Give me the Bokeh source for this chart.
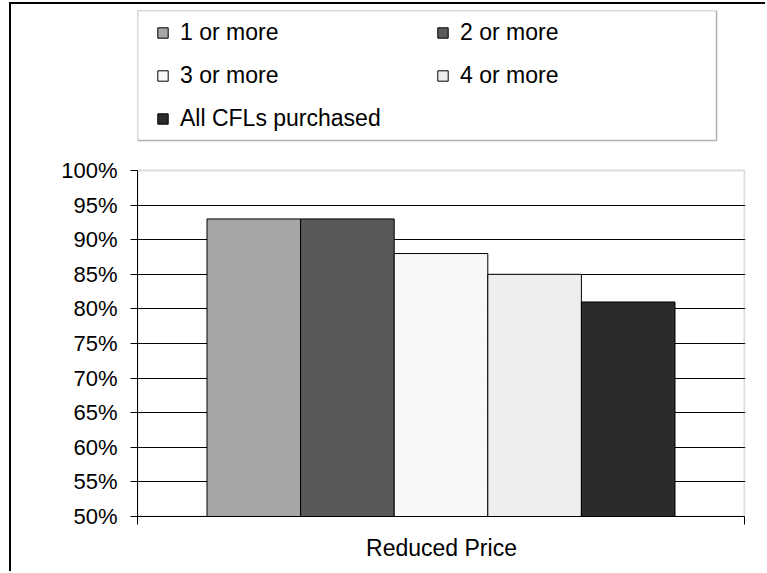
from bokeh.plotting import figure
from bokeh.models import (Range1d, LinearAxis, FixedTicker, NumeralTickFormatter,
                          Legend, LegendItem, BoxAnnotation)
from bokeh.embed import file_html
from bokeh.resources import INLINE

categories = ["Reduced Price"]
series = ["1 or more", "2 or more", "3 or more", "4 or more", "All CFLs purchased"]
values = [0.93, 0.93, 0.88, 0.85, 0.81]
colors = ["#A6A6A6", "#595959", "#F8F8F8", "#EEEEEE", "#2B2B2B"]
y_ticks = [0.50, 0.55, 0.60, 0.65, 0.70, 0.75, 0.80, 0.85, 0.90, 0.95, 1.00]

FONT = "Liberation Sans"
# page geometry (pixels)
OX, OY = 11, 4                       # canvas origin inside the outer border
W, H = 767 - OX, 573 - OY
PL, PR, PT, PB = 137, 744, 170, 516  # plot area (axis box)
FTOP = 10                            # frame extends up to include the legend
PX_PER_X = PR - PL
PX_PER_Y = (PB - PT) / (y_ticks[-1] - y_ticks[0])

def dx(px):
    return (px - PL) / PX_PER_X

def dy(py):
    return y_ticks[0] + (PB - py) / PX_PER_Y

p = figure(width=W, height=H,
           x_range=Range1d(0, dx(PR + 1)),
           y_range=Range1d(y_ticks[0], dy(FTOP)),
           x_axis_location=None,
           output_backend="svg", toolbar_location=None,
           min_border_left=PL - OX, min_border_right=W - (PR + 1 - OX),
           min_border_top=FTOP - OY, min_border_bottom=H - (PB - OY))
# outer chart border (left and top edges visible in the picture)
p.styles = {"margin-left": f"{OX}px", "margin-top": f"{OY}px",
            "box-shadow": "-2px -2px 0px 0px black"}
p.background_fill_color = "white"
p.border_fill_color = "white"
p.outline_line_color = None
p.xgrid.visible = False

# plot-area border (grey), drawn under grid/axes
area = BoxAnnotation(left=0, right=len(categories), bottom=y_ticks[0], top=y_ticks[-1],
                     fill_alpha=0, line_color="#8C8C8C", line_width=2, level="underlay")
p.add_layout(area)

bar_w = 0.1542
renderers = []
for i, (name, val, col) in enumerate(zip(series, values, colors)):
    xs = [c + 0.5 + (i - 2) * bar_w for c in range(len(categories))]
    r = p.vbar(x=xs, top=[val], bottom=y_ticks[0], width=bar_w,
               fill_color=col, line_color="black", line_width=1)
    renderers.append(r)

# y axis
ya = p.yaxis[0]
ya.ticker = FixedTicker(ticks=y_ticks)
ya.bounds = (y_ticks[0], y_ticks[-1])
ya.formatter = NumeralTickFormatter(format="0%")
ya.major_label_text_font = FONT
ya.major_label_text_font_size = "22px"
ya.major_label_text_color = "black"
ya.major_tick_out = 7
ya.major_tick_in = 0
ya.minor_tick_line_color = None
ya.axis_line_color = "black"
ya.major_tick_line_color = "black"
ya.major_label_standoff = 13

p.ygrid.ticker = FixedTicker(ticks=y_ticks[1:-1])
p.ygrid.grid_line_color = "black"
p.ygrid.grid_line_width = 1

# x axis: ticks at category edges, category name as label
xa = LinearAxis(ticker=FixedTicker(ticks=[0, len(categories)]),
                major_label_overrides={0: "", len(categories): ""})
xa.bounds = (0, len(categories))
xa.major_label_text_font_size = "1px"
xa.major_tick_out = 8
xa.major_tick_in = 0
xa.minor_tick_line_color = None
xa.axis_line_color = "black"
xa.major_tick_line_color = "black"
xa.axis_label = categories[0]
xa.axis_label_text_font = FONT
xa.axis_label_text_font_size = "23px"
xa.axis_label_text_font_style = "normal"
xa.axis_label_text_color = "black"
xa.axis_label_standoff = 10
p.add_layout(xa, "below")

# legend frame
legbox = BoxAnnotation(left=dx(137), right=dx(716), top=dy(10), bottom=dy(140),
                       fill_color="white", fill_alpha=1, line_color="black", line_width=1.5)
p.add_layout(legbox)

ITEM_H, GAP = 30, 13

def make_legend(idx, top_y, left_x):
    items = [LegendItem(label=series[i], renderers=[renderers[i]]) for i in idx]
    lg = Legend(items=items, orientation="vertical")
    lg.border_line_color = None
    lg.background_fill_alpha = 0
    lg.padding = 0
    lg.margin = 0
    lg.spacing = GAP
    lg.glyph_width = 13
    lg.glyph_height = 13
    lg.label_height = ITEM_H
    lg.label_standoff = 11
    lg.label_text_font = FONT
    lg.label_text_font_size = "23px"
    lg.label_text_color = "black"
    n = len(idx)
    h = n * ITEM_H + (n - 1) * GAP
    lg.location = (left_x - PL, PB - (top_y + h))
    return lg

p.add_layout(make_legend([0, 2, 4], 17, 156))
p.add_layout(make_legend([1, 3], 17, 436))

open("out.html", "w").write(file_html(p, INLINE))
